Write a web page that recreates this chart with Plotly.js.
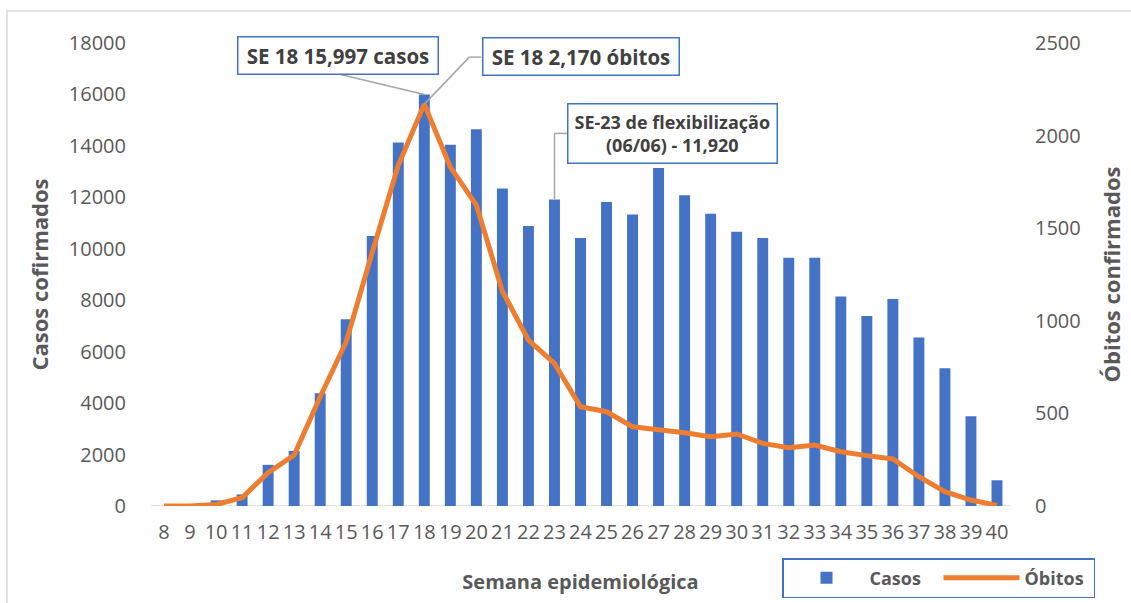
<!DOCTYPE html>
<html>
<head>
<meta charset="utf-8">
<script src="https://cdn.plot.ly/plotly-3.0.1.min.js"></script>
<style>
  html, body { margin: 0; padding: 0; background: #fff; }
  #chart { width: 1131px; height: 603px; }
</style>
</head>
<body>
<div id="chart"></div>
<script>
// ---- Data ----
const semanas = [8,9,10,11,12,13,14,15,16,17,18,19,20,21,22,23,24,25,26,27,28,29,30,31,32,33,34,35,36,37,38,39,40];
const casos = [0,0,220,450,1600,2140,4380,7260,10500,14130,15997,14040,14650,12340,10890,11920,10420,11820,11330,13140,12080,11360,10660,10420,9650,9650,8140,7390,8050,6550,5360,3490,1000];
const obitos = [0,0,8,45,180,275,590,887,1370,1840,2170,1830,1625,1160,896,770,536,509,428,414,396,374,389,338,315,329,293,272,254,158,77,32,3];
const yTicksCasos = [0,2000,4000,6000,8000,10000,12000,14000,16000,18000];
const yTicksObitos = [0,500,1000,1500,2000,2500];

// ---- Layout geometry (pixels) ----
const L = 151, R = 1010, T = 43, B = 506;
const px = p => (p - L) / (R - L);
const py = p => (B - p) / (B - T);

const tickFont = {family: 'Open Sans, sans-serif', size: 20, color: '#595959'};
const xTitleFont = {family: 'Open Sans, sans-serif', size: 20, color: '#595959', weight: 'bold'};
const yTitleFont = {family: 'Open Sans, sans-serif', size: 22, color: '#595959', weight: 'bold'};
const annFont = {family: 'Open Sans, sans-serif', size: 20.5, color: '#404040', weight: 'bold'};
const annFont3 = {family: 'Open Sans, sans-serif', size: 18, color: '#404040', weight: 'bold'};
const leader = {color: '#a5a5a5', width: 1.5};

const traces = [
  {
    type: 'bar', name: 'Casos', x: semanas, y: casos,
    marker: {color: '#4472c4'}, width: 0.42, yaxis: 'y'
  },
  {
    type: 'scatter', mode: 'lines', name: 'Óbitos', x: semanas, y: obitos,
    line: {color: '#ed7d31', width: 5}, yaxis: 'y2'
  }
];

const layout = {
  width: 1131, height: 603,
  margin: {l: L, r: 1131 - R, t: T, b: 603 - B, autoexpand: false},
  paper_bgcolor: '#ffffff', plot_bgcolor: '#ffffff',
  showlegend: true,
  legend: {
    orientation: 'h', x: px(782), y: py(558), xanchor: 'left', yanchor: 'top',
    bordercolor: '#4472c4', borderwidth: 1.5, bgcolor: '#ffffff',
    font: {family: 'Open Sans, sans-serif', size: 18, color: '#595959', weight: 'bold'},
    entrywidth: 64, itemwidth: 76
  },
  xaxis: {
    type: 'linear', range: [7.5, 40.5], tickmode: 'array', tickvals: semanas,
    ticktext: semanas.map(String), tickfont: tickFont, tickangle: 0,
    showgrid: false, zeroline: false, showline: false,
    ticks: 'outside', ticklen: 8, tickcolor: 'rgba(0,0,0,0)',
    title: {text: 'Semana epidemiológica', font: xTitleFont, standoff: 30}
  },
  yaxis: {
    range: [0, 18000], tickmode: 'array', tickvals: yTicksCasos,
    ticktext: yTicksCasos.map(String),
    tickfont: tickFont, showgrid: false, zeroline: false, showline: false,
    ticks: 'outside', ticklen: 20, tickcolor: 'rgba(0,0,0,0)',
    title: {text: 'Casos cofirmados', font: yTitleFont, standoff: 14}
  },
  yaxis2: {
    range: [0, 2500], tickmode: 'array', tickvals: yTicksObitos,
    ticktext: yTicksObitos.map(String),
    overlaying: 'y', side: 'right',
    tickfont: tickFont, showgrid: false, zeroline: false, showline: false,
    ticks: 'outside', ticklen: 20, tickcolor: 'rgba(0,0,0,0)',
    title: {text: 'Óbitos confirmados', font: yTitleFont, standoff: 24}
  },
  shapes: [
    // outer chart frame
    {type: 'rect', xref: 'paper', yref: 'paper', x0: px(7), x1: px(1140), y0: py(640), y1: py(11),
     line: {color: '#d9d9d9', width: 1.5}, fillcolor: 'rgba(0,0,0,0)', layer: 'below'},
    // x axis baseline
    {type: 'line', xref: 'paper', yref: 'y', x0: 0, x1: 1, y0: 0, y1: 0,
     line: {color: '#d9d9d9', width: 1.5}, layer: 'below'},
    // leader: casos peak
    {type: 'line', xref: 'x', yref: 'y', xsizemode: 'pixel', ysizemode: 'pixel',
     xanchor: 18, yanchor: 15997, x0: 0, y0: 0, x1: -88, y1: 21, line: leader},
    // leader: obitos peak (elbow)
    {type: 'line', xref: 'x', yref: 'y2', xsizemode: 'pixel', ysizemode: 'pixel',
     xanchor: 18, yanchor: 2170, x0: 0, y0: 0, x1: 45, y1: 47, line: leader},
    {type: 'line', xref: 'x', yref: 'y2', xsizemode: 'pixel', ysizemode: 'pixel',
     xanchor: 18, yanchor: 2170, x0: 45, y0: 47, x1: 57, y1: 47, line: leader},
    // leader: SE-23
    {type: 'line', xref: 'x', yref: 'y', xsizemode: 'pixel', ysizemode: 'pixel',
     xanchor: 23, yanchor: 11920, x0: 0, y0: 0, x1: 0, y1: 66, line: leader},
    {type: 'line', xref: 'x', yref: 'y', xsizemode: 'pixel', ysizemode: 'pixel',
     xanchor: 23, yanchor: 11920, x0: 0, y0: 66, x1: 13, y1: 66, line: leader}
  ],
  annotations: [
    {xref: 'paper', yref: 'paper', x: px(337.5), y: py(55), xanchor: 'center', yanchor: 'middle',
     text: 'SE 18 15,997 casos', showarrow: false, font: annFont,
     bordercolor: '#4472c4', borderwidth: 1.5, borderpad: 6, bgcolor: '#ffffff', width: 187, height: 24},
    {xref: 'paper', yref: 'paper', x: px(580.5), y: py(57), xanchor: 'center', yanchor: 'middle',
     text: 'SE 18 2,170 óbitos', showarrow: false, font: annFont,
     bordercolor: '#4472c4', borderwidth: 1.5, borderpad: 6, bgcolor: '#ffffff', width: 183, height: 24},
    {xref: 'paper', yref: 'paper', x: px(567), y: py(133), xanchor: 'left', yanchor: 'middle',
     text: 'SE-23 de flexibilização<br>(06/06) - 11,920', showarrow: false, font: annFont3,
     bordercolor: '#4472c4', borderwidth: 1.5, borderpad: 6, bgcolor: '#ffffff', height: 46}
  ]
};

Plotly.newPlot('chart', traces, layout, {displayModeBar: false, staticPlot: true});
</script>
</body>
</html>
